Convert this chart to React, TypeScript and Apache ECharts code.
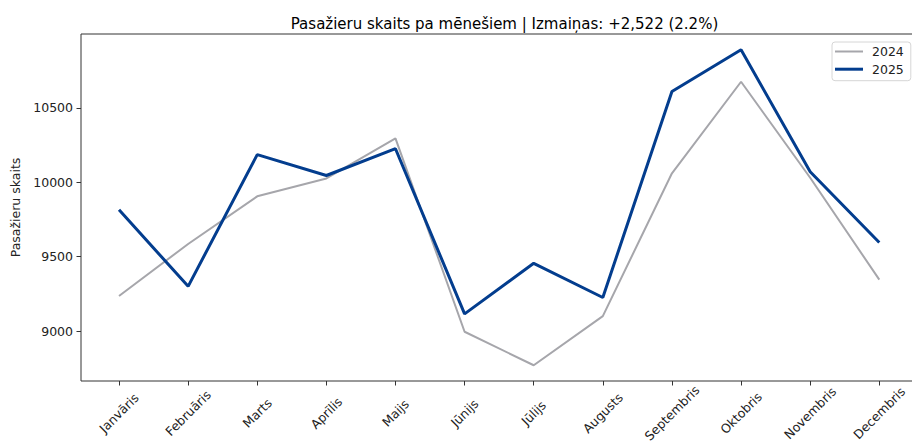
import React, { useEffect, useRef } from "react";
import * as echarts from "echarts";

const months = [
  "Janvāris",
  "Februāris",
  "Marts",
  "Aprīlis",
  "Maijs",
  "Jūnijs",
  "Jūlijs",
  "Augusts",
  "Septembris",
  "Oktobris",
  "Novembris",
  "Decembris",
];
const values2024 = [9235, 9585, 9905, 10025, 10295, 8995, 8770, 9100, 10060, 10675, 10030, 9345];
const values2025 = [9815, 9300, 10185, 10045, 10225, 9115, 9455, 9225, 10610, 10890, 10070, 9595];
const yTicks = [9000, 9500, 10000, 10500];
const titleText = "Pasažieru skaits pa mēnešiem | Izmaiņas: +2,522 (2.2%)";

const FONT = "DejaVu Sans";

export default function App() {
  const ref = useRef<HTMLDivElement>(null);
  useEffect(() => {
    if (!ref.current) return;
    const chart = echarts.init(ref.current, undefined, { renderer: "svg" });
    const all = [...values2024, ...values2025];
    const dMin = Math.min(...all);
    const dMax = Math.max(...all);
    const pad = (dMax - dMin) * 0.05;
    const xPad = (months.length - 1) * 0.05;
    const idx = months.map((_, i) => i);
    chart.setOption({
      animation: false,
      backgroundColor: "#ffffff",
      textStyle: { fontFamily: FONT },
      title: {
        text: titleText,
        left: 499.5,
        textAlign: "center",
        top: 11,
        textStyle: { fontFamily: FONT, fontSize: 15, fontWeight: "normal", color: "#000" },
      },
      legend: {
        orient: "vertical",
        left: 832,
        top: 42,
        padding: [3, 7, 5, 3],
        itemWidth: 28,
        itemHeight: 14,
        itemGap: 4.7,
        borderColor: "#d6d6d6",
        borderWidth: 1,
        borderRadius: 3,
        backgroundColor: "rgba(255,255,255,0.8)",
        textStyle: { fontFamily: FONT, fontSize: 12.5, color: "#222", padding: [0, 0, 0, 4] },
        data: [
          { name: "2024", icon: "path://M0,0 L28,0 L28,2 L0,2 Z", itemStyle: { color: "#a6a6ab" } },
          { name: "2025", icon: "path://M0,0 L28,0 L28,3 L0,3 Z", itemStyle: { color: "#033d8e" } },
        ],
      },
      grid: {
        left: 81,
        top: 34,
        right: -5.3,
        bottom: 65,
        show: true,
        borderColor: "#333",
        borderWidth: 1,
        backgroundColor: "transparent",
        outerBoundsMode: "none",
        containLabel: false,
      },
      xAxis: {
        type: "value",
        min: -xPad,
        max: months.length - 1 + xPad,
        splitLine: { show: false },
        axisLine: { show: false, onZero: false },
        axisTick: {
          show: true,
          length: 4.5,
          lineStyle: { color: "#333" },
          customValues: idx,
        },
        axisLabel: {
          customValues: idx,
          formatter: (v: number) => months[Math.round(v)] ?? "",
          rotate: 45,
          align: "center",
          verticalAlign: "middle",
          margin: 32,
          fontFamily: FONT,
          fontSize: 12.5,
          color: "#222",
        },
      },
      yAxis: {
        type: "value",
        min: dMin - pad,
        max: dMax + pad,
        name: "Pasažieru skaits",
        nameLocation: "middle",
        nameGap: 57,
        nameTextStyle: { fontFamily: FONT, fontSize: 12.5, color: "#222" },
        splitLine: { show: false },
        axisLine: { show: false, onZero: false },
        axisTick: {
          show: true,
          length: 4.5,
          lineStyle: { color: "#333" },
          customValues: yTicks,
        },
        axisLabel: {
          customValues: yTicks,
          formatter: (v: number) => String(v),
          margin: 8,
          fontFamily: FONT,
          fontSize: 12.5,
          color: "#222",
        },
      },
      series: [
        {
          name: "2024",
          type: "line",
          data: values2024.map((v, i) => [i, v]),
          symbol: "none",
          lineStyle: { color: "#a6a6ab", width: 2 },
          itemStyle: { color: "#a6a6ab" },
          z: 2,
        },
        {
          name: "2025",
          type: "line",
          data: values2025.map((v, i) => [i, v]),
          symbol: "none",
          lineStyle: { color: "#033d8e", width: 3 },
          itemStyle: { color: "#033d8e" },
          z: 3,
        },
      ],
    });
    return () => chart.dispose();
  }, []);
  return (
    <div
      ref={ref}
      style={{ position: "fixed", left: 0, top: 0, width: 912, height: 446, background: "#fff" }}
    />
  );
}
